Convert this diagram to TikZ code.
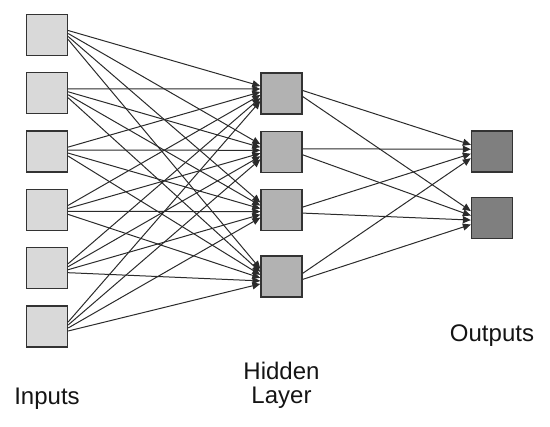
\documentclass[tikz,border=0pt]{standalone}
\usepackage{fontspec}
\setmainfont{Liberation Sans}
\usepackage{xcolor}
\definecolor{inGray}{HTML}{D9D9D9}
\definecolor{hidGray}{HTML}{B2B2B2}
\definecolor{outGray}{HTML}{7F7F7F}
\definecolor{edgeGray}{HTML}{2B2B2B}
\definecolor{boxLine}{HTML}{333333}
\definecolor{darkText}{HTML}{141414}
\usetikzlibrary{arrows.meta, positioning, calc}

\begin{document}
\begin{tikzpicture}[
    x=1pt, y=-1pt,
    font=\fontsize{24}{24}\selectfont,
    inNode/.style={fill=inGray, draw=boxLine, line width=1.3pt, minimum size=41pt, inner sep=0pt},
    hidNode/.style={inNode, fill=hidGray},
    outNode/.style={inNode, fill=outGray},
    lblNode/.style={inner sep=0pt, align=center, text=darkText},
    arrLine/.style={-{Triangle[length=8pt,width=7pt]}, line width=1pt, draw=edgeGray}
]
\useasboundingbox (0,0) rectangle (550,427);

% Input layer
\node[inNode] (in1) at (47,35) {};
\node[inNode, below=16pt of in1] (in2) {};
\node[inNode, below=16pt of in2] (in3) {};
\node[inNode, below=16pt of in3] (in4) {};
\node[inNode, below=16pt of in4] (in5) {};
\node[inNode, below=16pt of in5] (in6) {};

% Hidden layer
\node[hidNode] (hid1) at (281.5,93.5) {};
\node[hidNode, below=16pt of hid1] (hid2) {};
\node[hidNode, below=16pt of hid2] (hid3) {};
\node[hidNode, below=24pt of hid3] (hid4) {};

% Output layer
\node[outNode] (out1) at (492,151.5) {};
\node[outNode, below=24pt of out1] (out2) {};

% Connections
\foreach \i in {1,...,6}
  \foreach \j in {1,...,4}
    \draw[arrLine] ($(in\i.east)+(0,{(\j-2.5)*3})$) -- ($(hid\j.west)+(0,{(\i-3.5)*3})$);
\foreach \j in {1,...,4}
  \foreach \k in {1,2}
    \draw[arrLine] ($(hid\j.east)+(0,{(\k-1.5)*6})$) -- ($(out\k.west)+(0,{(\j-2.5)*4.5})$);

% Labels
\node[lblNode, below=40pt of in6] (l_in) {Inputs};
\node[lblNode, below=64pt of hid4] (l_hid) {Hidden\\Layer};
\node[lblNode, below=86pt of out2] (l_out) {Outputs};

\end{tikzpicture}
\end{document}
